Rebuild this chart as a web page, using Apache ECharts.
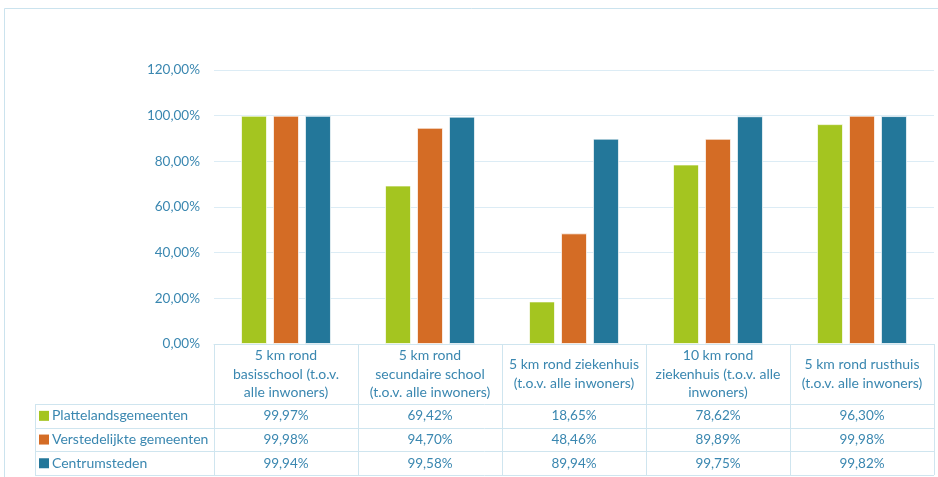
<!DOCTYPE html>
<html>
<head>
<meta charset="utf-8">
<script src="https://cdn.jsdelivr.net/npm/echarts@6/dist/echarts.min.js"></script>
<style>
  html, body { margin: 0; padding: 0; background: #fff; }
  #main { width: 938px; height: 477px; }
</style>
</head>
<body>
<div id="main"></div>
<script>
// data
var categories = [
  '5 km rond\nbasisschool (t.o.v.\nalle inwoners)',
  '5 km rond\nsecundaire school\n(t.o.v. alle inwoners)',
  '5 km rond ziekenhuis\n(t.o.v. alle inwoners)',
  '10 km rond\nziekenhuis (t.o.v. alle\ninwoners)',
  '5 km rond rusthuis\n(t.o.v. alle inwoners)'
];
var seriesNames = ['Plattelandsgemeenten', 'Verstedelijkte gemeenten', 'Centrumsteden'];
var platteland = [99.97, 69.42, 18.65, 78.62, 96.30];
var verstedelijkt = [99.98, 94.70, 48.46, 89.89, 99.98];
var centrum = [99.94, 99.58, 89.94, 99.75, 99.82];
var colors = ['#a4c520', '#d46c25', '#23779a'];

var FONT = 'Lato';
var TXT = '#3a87b0';
var LINE = '#cfe5ef';

function pct(v) {
  return v.toFixed(2).replace('.', ',') + '%';
}

var chart = echarts.init(document.getElementById('main'));

var gridLeft = 214, gridRight = 4, gridTop = 70, gridBottom = 133;
var headerH = 60, rowH = 23.7, tableLeft = 35;

function mkSeries(name, data, color) {
  return {
    name: name,
    type: 'bar',
    data: data,
    barWidth: 26,
    barGap: '23%',
    itemStyle: { color: color, borderColor: 'rgba(255,255,255,0.7)', borderWidth: 1 }
  };
}

var option = {
  backgroundColor: '#ffffff',
  animation: false,
  textStyle: { fontFamily: FONT },
  grid: { left: gridLeft, right: gridRight, top: gridTop, bottom: gridBottom },
  xAxis: {
    type: 'category',
    data: categories,
    axisLine: { lineStyle: { color: LINE, width: 1 } },
    axisTick: { show: true, length: headerH + 3 * rowH, lineStyle: { color: LINE } },
    axisLabel: {
      interval: 0,
      color: TXT,
      fontFamily: FONT,
      fontSize: 14,
      lineHeight: 18.5,
      verticalAlign: 'middle',
      margin: headerH / 2
    }
  },
  yAxis: {
    type: 'value',
    min: 0,
    max: 120,
    interval: 20,
    axisLine: { show: false },
    axisTick: { show: false },
    splitLine: { lineStyle: { color: '#dcecf5', width: 1 } },
    axisLabel: {
      color: TXT,
      fontFamily: FONT,
      fontSize: 13.5,
      margin: 14,
      formatter: pct
    }
  },
  series: [
    mkSeries(seriesNames[0], platteland, colors[0]),
    mkSeries(seriesNames[1], verstedelijkt, colors[1]),
    mkSeries(seriesNames[2], centrum, colors[2])
  ]
};

chart.setOption(option);

// data table below the plot
var rows = [platteland, verstedelijkt, centrum];
var W = 938, H = 477;
var tableTop = H - gridBottom + headerH;
var tableRight = W - gridRight;
var g = [];

// outer frame
g.push({ type: 'polyline', silent: true,
  shape: { points: [[4.5, H], [4.5, 8.5], [W, 8.5]] },
  style: { stroke: '#cbe3ee', lineWidth: 1, fill: null } });

for (var r = 0; r <= 3; r++) {
  var y = Math.round(tableTop + r * rowH) + 0.5;
  g.push({ type: 'line', silent: true,
    shape: { x1: tableLeft, y1: y, x2: tableRight, y2: y },
    style: { stroke: LINE, lineWidth: 1 } });
}
g.push({ type: 'line', silent: true,
  shape: { x1: tableLeft + 0.5, y1: tableTop, x2: tableLeft + 0.5, y2: tableTop + 3 * rowH },
  style: { stroke: LINE, lineWidth: 1 } });

rows.forEach(function (vals, r) {
  var cy = tableTop + (r + 0.5) * rowH;
  g.push({ type: 'rect', silent: true,
    shape: { x: 39, y: cy - 5, width: 10, height: 10 },
    style: { fill: colors[r] } });
  g.push({ type: 'text', silent: true,
    style: { x: 52, y: cy, text: seriesNames[r], fill: TXT,
      font: '14px ' + FONT, verticalAlign: 'middle', align: 'left' } });
  vals.forEach(function (v, c) {
    var cx = chart.convertToPixel({ xAxisIndex: 0 }, c);
    g.push({ type: 'text', silent: true,
      style: { x: cx, y: cy, text: pct(v), fill: TXT,
        font: '13.5px ' + FONT, verticalAlign: 'middle', align: 'center' } });
  });
});

chart.setOption({ graphic: g });
</script>
</body>
</html>
